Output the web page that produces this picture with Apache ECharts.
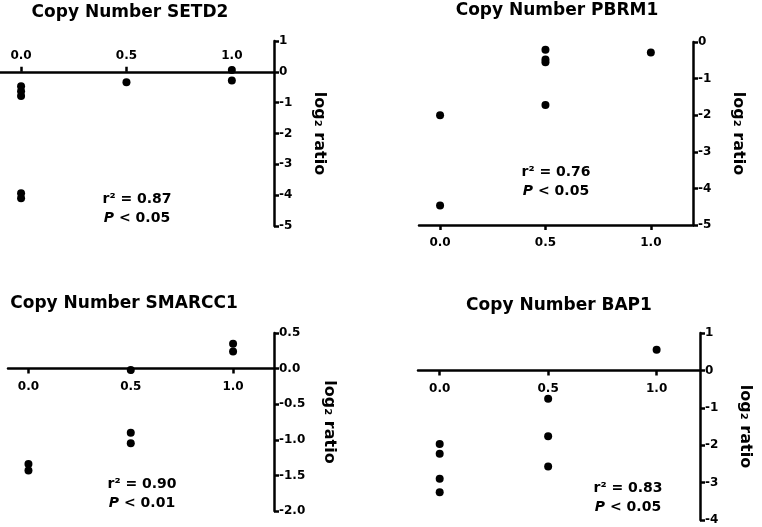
<!DOCTYPE html>
<html><head><meta charset="utf-8">
<script src="https://cdn.jsdelivr.net/npm/echarts@6/dist/echarts.min.js"></script>
<style>html,body{margin:0;padding:0;background:#fff}#c{width:762px;height:527px}</style>
</head><body><div id="c"></div>
<script>
// ---- data ----
const genes = ['SETD2', 'PBRM1', 'SMARCC1', 'BAP1'];
const xTicks = [0, 0.5, 1.0];
const setd2 = [[0, -0.47], [0, -0.63], [0, -0.78], [0, -3.94], [0, -4.1], [0.5, -0.34], [1, 0.06], [1, -0.28]];
const pbrm1 = [[0, -2.0], [0, -4.47], [0.5, -0.21], [0.5, -0.48], [0.5, -0.55], [0.5, -1.72], [1, -0.29]];
const smarcc1 = [[0, -1.34], [0, -1.43], [0.5, -0.02], [0.5, -0.9], [0.5, -1.05], [1, 0.35], [1, 0.24]];
const bap1 = [[0, -1.97], [0, -2.23], [0, -2.9], [0, -3.26], [0.5, -0.76], [0.5, -1.76], [0.5, -2.57], [1, 0.55]];
const r2Values = ['0.87', '0.76', '0.90', '0.83'];
const pValues = ['< 0.05', '< 0.05', '< 0.01', '< 0.05'];
const yMins = [-5, -5, -2, -4];
const yMaxs = [1, 0, 0.5, 1];
const ySteps = [1, 1, 0.5, 1];
const allData = [setd2, pbrm1, smarcc1, bap1];

// ---- layout ----
const FONT = "'DejaVu Sans', sans-serif";
const layout = [
  { grid: { left: 0, top: 41, width: 274, height: 185 }, xPos: 'top', atZero: true, nameGap: 37, title: [130, 2], stats: [137, 190] },
  { grid: { left: 419, top: 42, width: 274, height: 183 }, xPos: 'bottom', atZero: false, nameGap: 37, title: [557, 0], stats: [556, 163] },
  { grid: { left: 8, top: 333, width: 266, height: 178 }, xPos: 'bottom', atZero: true, nameGap: 47, title: [124, 293], stats: [142, 475] },
  { grid: { left: 418, top: 333, width: 282, height: 187 }, xPos: 'bottom', atZero: true, nameGap: 37, title: [559, 295], stats: [628, 479] }
];
const axisLineStyle = { color: '#000', width: 2.5 };
const lblStyle = { fontFamily: FONT, fontWeight: 'bold', fontSize: 12, color: '#000' };

const grids = [], xAxes = [], yAxes = [], series = [], titles = [];
genes.forEach((g, i) => {
  const L = layout[i];
  grids.push(Object.assign({ outerBoundsMode: 'none', containLabel: false }, L.grid));
  xAxes.push({
    type: 'value', gridIndex: i, min: -0.1, max: 1.2, position: L.xPos, offset: 0,
    axisLine: { show: true, onZero: false, lineStyle: Object.assign({}, axisLineStyle) },
    axisTick: { show: true, customValues: xTicks, length: 5, lineStyle: Object.assign({}, axisLineStyle) },
    axisLabel: Object.assign({ customValues: xTicks, margin: L.xPos === 'top' ? 10 : 12, formatter: v => Number(v).toFixed(1) }, lblStyle),
    splitLine: { show: false }
  });
  yAxes.push({
    type: 'value', gridIndex: i, position: 'right', min: yMins[i], max: yMaxs[i], interval: ySteps[i],
    axisLine: { show: true, onZero: false, lineStyle: Object.assign({}, axisLineStyle) },
    axisTick: { show: true, length: 5, lineStyle: Object.assign({}, axisLineStyle) },
    axisLabel: Object.assign({ margin: 5, formatter: v => ySteps[i] < 1 ? Number(v).toFixed(1) : String(v) }, lblStyle),
    splitLine: { show: false },
    name: 'log₂ ratio', nameLocation: 'middle', nameRotate: -90, nameGap: L.nameGap,
    nameTextStyle: { fontFamily: FONT, fontWeight: 'bold', fontSize: 16, color: '#000' }
  });
  series.push({
    type: 'scatter', xAxisIndex: i, yAxisIndex: i, data: allData[i],
    symbol: 'circle', symbolSize: 8, itemStyle: { color: '#000', opacity: 1 }, silent: true
  });
  titles.push({
    text: 'Copy Number ' + g, left: L.title[0], top: L.title[1], textAlign: 'center', padding: 0,
    textStyle: { fontFamily: FONT, fontWeight: 'bold', fontSize: 17, color: '#000', lineHeight: 22 }
  });
  titles.push({
    text: '{a|r² = ' + r2Values[i] + '}\n{i|P}{a| ' + pValues[i] + '}',
    left: L.stats[0], top: L.stats[1], textAlign: 'center', padding: 0,
    textStyle: {
      fontFamily: FONT, fontWeight: 'bold', fontSize: 14, color: '#000', lineHeight: 19,
      rich: {
        a: { fontFamily: FONT, fontWeight: 'bold', fontSize: 14, color: '#000', lineHeight: 19 },
        i: { fontFamily: FONT, fontWeight: 'bold', fontStyle: 'italic', fontSize: 14, color: '#000', lineHeight: 19 }
      }
    }
  });
});

const chart = echarts.init(document.getElementById('c'), null, { renderer: 'canvas' });
chart.setOption({
  animation: false, backgroundColor: '#fff',
  title: titles, grid: grids, xAxis: xAxes, yAxis: yAxes, series: series
});

// move the x axes (line, ticks, labels) to y = 0 where the reference does, using the library's scale
const xUpdate = genes.map((g, i) => {
  const L = layout[i];
  if (!L.atZero) return {};
  const y0 = chart.convertToPixel({ yAxisIndex: i }, 0);
  const top = L.grid.top, bottom = L.grid.top + L.grid.height;
  return { offset: L.xPos === 'top' ? top - y0 : y0 - bottom };
});
chart.setOption({ xAxis: xUpdate });
</script></body></html>
